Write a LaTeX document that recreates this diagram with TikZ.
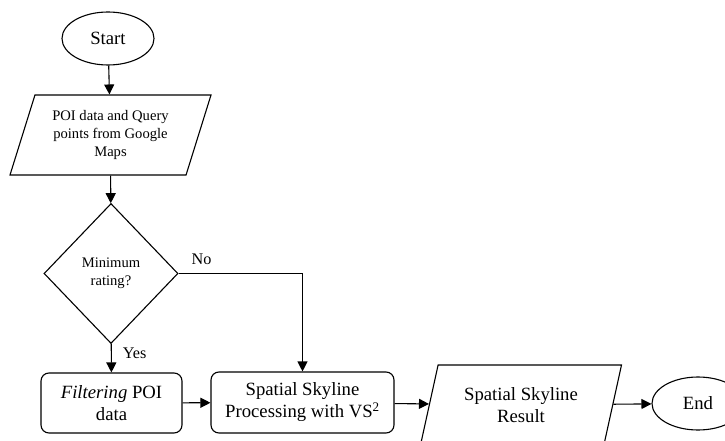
\documentclass[tikz,border=0pt]{standalone}
\usepackage{fontspec}
\setmainfont{Liberation Serif}
\usetikzlibrary{shapes.geometric,arrows.meta}
\newcommand{\bigtxt}{\fontsize{18.7}{22}\selectfont}
\newcommand{\smalltxt}{\fontsize{14.6}{18.3}\selectfont}
\newcommand{\lbltxt}{\fontsize{16.2}{19}\selectfont}
\begin{document}
\begin{tikzpicture}[x=1pt,y=-1pt,
  every path/.style={line width=1.1pt},
  conn/.style={draw, -{Triangle[length=10pt,width=10pt]}},
  term/.style={ellipse, draw, minimum width=92, minimum height=53, inner sep=0pt, font=\bigtxt},
  io/.style={trapezium, trapezium left angle=63.4, trapezium right angle=116.6,
    trapezium stretches body, draw, minimum width=201, minimum height=80,
    inner sep=0pt, align=center},
  proc/.style={rectangle, rounded corners=8pt, draw, align=center, inner sep=0pt, font=\bigtxt},
  dec/.style={diamond, draw, minimum width=134, minimum height=140, inner sep=0pt,
    align=center, font=\smalltxt},
  lbl/.style={font=\lbltxt, inner sep=0pt}]
\useasboundingbox (0,0) rectangle (725,441);
\node[term] (start) at (108,38.5) {Start};
\node[io, font=\smalltxt] (in) at (110.5,135) {POI data and Query\\points from Google\\Maps};
\node[dec] (dec) at (111,273.5) {Minimum\\rating?};
\node[proc, minimum width=141, minimum height=60] (filt) at (111.5,403) {\textit{Filtering} POI\\data};
\node[proc, minimum width=183, minimum height=61] (ssp) at (302.5,402.5) {Spatial Skyline\\Processing with VS\textsuperscript{2}};
\node[io, font=\bigtxt] (out) at (521,405) {Spatial Skyline\\Result};
\node[term] (end) at (698,403.5) {End};
\draw[conn] (start) -- (in);
\draw[conn] (in) -- (dec);
\draw[conn] (dec) -- node[lbl, pos=0.33, right, xshift=11pt] {Yes} (filt);
\draw[conn] (dec.east) -| node[lbl, pos=0.093, above, yshift=8pt] {No} (ssp.north);
\draw[conn] (filt) -- (ssp);
\draw[conn] (ssp) -- (out);
\draw[conn] (out) -- (end);
\end{tikzpicture}
\end{document}
